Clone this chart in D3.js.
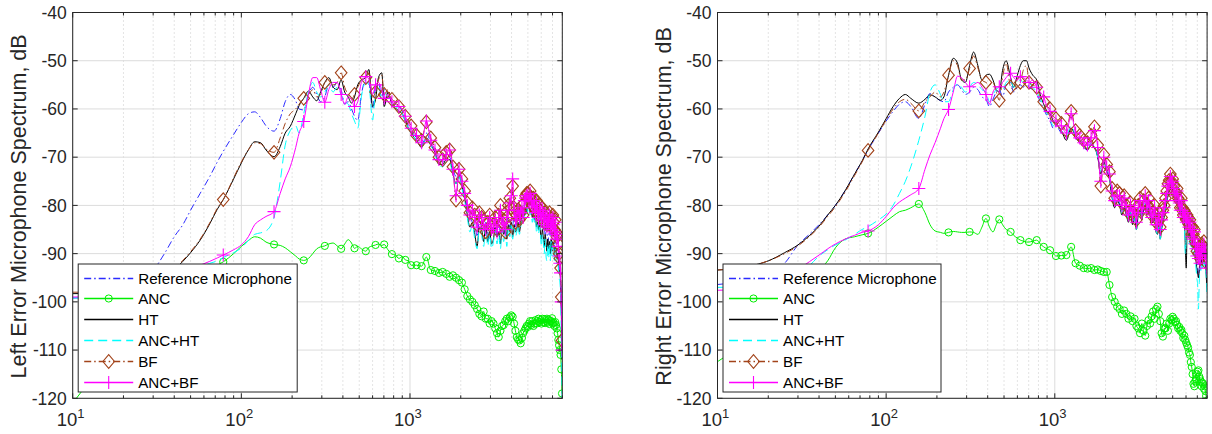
<!DOCTYPE html>
<html><head><meta charset="utf-8">
<script src="https://cdnjs.cloudflare.com/ajax/libs/d3/7.8.5/d3.min.js"></script>
<style>body{margin:0;background:#fff}svg{display:block}</style>
</head><body><svg id="c" width="1212" height="434"></svg>
<script>
// ---------------- data ----------------
const FREQ = [10,15,20,25,30,35,40,45,50,57,65,72,78.125,90,100,110,120,130,140,156.25,
170,182,195,210,220,234.375,250,265,280,295,312.5,330,350,370,390.625,410,430,450,468.75,490,
515,546.875,570,600,625,650,680,703.125,740,781.25,820,859.375,900,937.5,980,1015.625,1093.75,1171.875,1250,1328.125,
1406.25,1484.375,1562.5,1640.625,1718.75,1796.875,1875,1953.125,2031.25,2109.375,
2187.5,2265.625,2343.75,2421.875,2500,2578.125,2656.25,2734.375,2812.5,2890.625,2968.75,3046.875,3125,3203.125,3281.25,
3359.375,3437.5,3515.625,3593.75,3671.875,3750,3828.125,3906.25,3984.375,4062.5,4140.625,4218.75,4296.875,4375,4453.125,
4531.25,4609.375,4687.5,4765.625,4843.75,4921.875,5000,5078.125,5156.25,5234.375,5312.5,5390.625,5468.75,5546.875,5625,
5703.125,5781.25,5859.375,5937.5,6015.625,6093.75,6171.875,6250,6328.125,6406.25,6484.375,6562.5,6640.625,6718.75,6796.875,
6875,6953.125,7031.25,7109.375,7187.5,7265.625,7343.75,7421.875,7500,7578.125,7656.25,7734.375,7812.5,7890.625,7968.75];

const SERIES_NAMES = ["Reference Microphone","ANC","HT","ANC+HT","BF","ANC+BF"];
const Y_TICKS = [-120,-110,-100,-90,-80,-70,-60,-50,-40];
const X_TICKS = [10,100,1000];
const X_TICK_LABELS = [["10","1"],["10","2"],["10","3"]];
const Y_LABELS = ["Left Error Microphone Spectrum, dB","Right Error Microphone Spectrum, dB"];

// ---- Left panel ----
const L_REF = [-99.2,-99.0,-98.0,-96.3,-93.5,-90.0,-86.5,-84.0,-81.0,-77.5,-74.0,-71.0,-68.8,-65.3,-62.8,-61.0,-60.6,-61.8,-63.5,-64.6,
-62.0,-58.5,-57.0,-58.3,-60.0,-60.2,-57.0,-55.5,-57.0,-58.5,-57.5,-55.0,-55.5,-54.5,-56.0,-59.0,-58.5,-60.0,-61.5,-62.4,
-57.0,-54.0,-54.5,-60.0,-55.0,-54.5,-57.5,-56.0,-57.0,-58.5,-59.0,-59.5,-60.5,-62.0,-63.5,-64.5,-66.0,-67.5,-65.0,-67.0,
-68.5,-70.5,-71.0,-70.0,-70.0,-72.5,-74.0,-73.0,-75.0,-77.5,
-80.5,-82.0,-83.5,-84.0,-86.5,-83.0,-84.5,-85.5,-83.5,-85.5,-87.0,-84.5,-86.0,-84.5,-86.5,-84.0,-85.5,-83.0,-84.5,-86.0,-83.5,
-82.5,-84.5,-83.0,-84.0,-82.5,-84.5,-83.5,-82.0,-83.5,-82.5,-81.5,-80.0,-80.5,-79.0,-80.0,-78.5,-79.5,-79.0,-80.0,-81.0,-80.5,
-81.5,-80.5,-82.0,-82.0,-83.0,-82.5,-83.5,-84.5,-83.0,-85.0,-84.0,-86.0,-84.0,-85.5,-87.5,-86.5,-85.0,-86.5,-85.0,-87.0,-85.5,
-86.0,-88.0,-87.0,-88.0,-89.5,-89.0,-90.0,-92.0,-93.0,-95.0,-100.0,-110.0];
const L_ANC = [-121,-113,-107.5,-104,-101,-99,-97.5,-96.3,-95.3,-94.3,-93.3,-92.4,-91.7,-90.0,-88.5,-87.3,-86.5,-86.8,-87.6,-88.1,
-88.3,-88.8,-89.6,-90.5,-91.1,-91.4,-91.0,-90.0,-89.0,-88.6,-88.4,-88.0,-87.8,-88.4,-89.0,-88.0,-87.1,-87.8,-88.9,-88.5,
-89.0,-89.5,-88.7,-88.4,-88.2,-88.0,-88.3,-88.1,-89.2,-90.1,-90.3,-91.0,-90.6,-91.3,-91.5,-92.4,-92.4,-92.6,-90.7,-93.4,
-93.6,-94.0,-93.8,-94.2,-94.8,-94.5,-95.0,-95.5,-96.0,-97.4,
-98.8,-99.5,-100.0,-100.7,-101.5,-102.5,-103.0,-102.0,-103.5,-103.5,-104.5,-104.0,-104.5,-105.5,-106.5,-107.3,-106.0,-105.0,
-104.8,-104.0,-103.5,-104.0,-103.2,-102.8,-103.1,-104.5,-106.0,-107.3,-107.8,-108.0,-108.6,-107.5,-106.5,-106.0,-105.5,-105.0,
-105.2,-104.5,-104.0,-104.8,-104.0,-105.0,-104.5,-103.8,-104.5,-104.0,-103.5,-104.2,-103.8,-104.5,-103.5,-104.2,-103.6,-104.4,
-104.0,-103.5,-104.3,-103.7,-104.6,-104.0,-104.0,-103.4,-104.5,-104.3,-105.0,-104.2,-104.8,-105.5,-106.5,-107.9,-109.0,-110.0,
-111.0,-114.0,-119.0];
const L_HT = [-98.3,-98.2,-97.8,-97.0,-96.0,-94.8,-93.3,-91.6,-89.8,-87.2,-83.8,-80.8,-78.8,-74.5,-71.2,-68.5,-66.8,-67.0,-68.5,-69.9,
-67.8,-65.0,-63.6,-61.0,-59.3,-57.8,-56.3,-57.5,-58.3,-56.5,-54.5,-53.5,-55.5,-56.0,-54.0,-56.5,-57.5,-58.8,-57.5,-55.0,
-54.0,-53.5,-51.8,-59.5,-58.0,-53.5,-52.5,-59.5,-56.5,-59.0,-59.8,-60.5,-61.0,-62.5,-64.0,-65.0,-66.5,-68.0,-66.0,-67.5,
-69.0,-71.5,-71.5,-70.5,-70.5,-73.5,-75.5,-74.0,-76.0,-78.5,
-82.0,-84.5,-83.5,-86.0,-88.5,-84.5,-85.0,-87.5,-84.0,-87.5,-85.5,-88.0,-87.0,-84.5,-86.5,-85.5,-88.0,-84.5,-86.0,-84.0,-87.0,
-84.0,-85.5,-83.5,-86.5,-84.0,-85.5,-85.0,-83.5,-85.5,-84.0,-82.5,-81.5,-82.0,-80.5,-81.5,-79.5,-80.5,-81.5,-81.0,-82.5,-81.5,
-83.0,-82.0,-84.5,-83.5,-85.0,-84.0,-85.5,-87.0,-85.0,-86.5,-88.5,-86.0,-87.5,-89.5,-87.0,-89.0,-87.5,-90.0,-87.0,-89.5,-87.5,
-88.0,-90.0,-88.5,-89.5,-91.0,-90.0,-91.5,-93.0,-94.0,-96.0,-102.0,-112.0];
const L_ANCHT = [-99.2,-99.0,-98.5,-97.8,-97.0,-96.0,-95.0,-94.2,-93.5,-92.8,-92.0,-91.5,-90.8,-89.8,-88.8,-87.3,-86.0,-85.7,-85.3,-82.5,
-75.0,-67.5,-64.5,-63.5,-65.0,-61.0,-56.5,-54.5,-56.5,-57.5,-56.5,-55.0,-56.5,-55.5,-57.0,-58.5,-59.0,-61.0,-62.5,-64.0,
-57.5,-54.5,-55.0,-62.3,-56.0,-55.0,-58.0,-57.0,-57.5,-59.0,-59.5,-60.0,-61.0,-62.5,-64.0,-65.0,-66.5,-68.0,-66.0,-67.5,
-69.5,-71.5,-72.0,-71.0,-71.0,-74.0,-75.5,-74.0,-76.5,-79.0,
-82.5,-85.5,-84.0,-87.0,-89.0,-85.0,-86.0,-88.5,-84.5,-88.5,-86.0,-89.0,-87.5,-85.0,-88.0,-86.0,-89.0,-85.0,-87.5,-85.0,-88.5,
-84.5,-86.5,-84.0,-87.0,-84.5,-86.5,-85.5,-84.0,-86.0,-84.5,-83.0,-82.0,-82.5,-81.0,-82.0,-80.0,-81.0,-82.0,-81.5,-83.5,-82.0,
-83.5,-82.5,-85.5,-84.0,-86.0,-84.5,-86.0,-88.5,-86.0,-87.5,-90.0,-87.0,-90.5,-91.5,-88.0,-91.0,-88.0,-91.5,-87.5,-90.5,-88.0,
-89.0,-91.5,-89.0,-91.0,-92.0,-91.5,-93.0,-95.0,-96.0,-98.0,-108.0,-120.0];
const L_BF = [-98.0,-98.0,-97.6,-96.8,-95.8,-94.5,-93.0,-91.4,-89.6,-87.0,-83.6,-80.6,-78.8,-74.3,-71.0,-68.5,-67.0,-67.2,-68.3,-69.0,
-66.0,-63.0,-61.0,-60.0,-59.0,-57.8,-57.0,-56.0,-57.5,-57.0,-54.5,-54.0,-55.0,-54.5,-52.5,-55.5,-57.0,-58.0,-57.0,-55.5,
-54.0,-53.5,-52.5,-57.5,-56.5,-54.0,-53.0,-57.0,-56.0,-58.0,-58.5,-59.5,-60.0,-61.5,-62.5,-63.5,-65.5,-66.5,-62.7,-66.0,
-68.0,-70.0,-70.5,-69.0,-68.5,-72.0,-78.9,-72.5,-74.5,-77.0,
-79.5,-81.5,-80.5,-82.0,-84.0,-81.5,-82.5,-83.0,-85.5,-83.5,-82.0,-84.5,-84.0,-82.5,-85.0,-82.0,-80.0,-83.5,-83.0,-85.5,-82.5,
-80.0,-78.5,-80.5,-76.0,-80.5,-83.5,-82.0,-81.0,-83.0,-81.5,-80.0,-82.0,-79.5,-78.0,-77.5,-77.5,-78.5,-77.0,-78.5,-80.0,-78.5,
-79.5,-81.0,-79.0,-80.5,-82.0,-80.0,-81.0,-82.5,-80.5,-82.0,-83.5,-81.5,-82.5,-84.0,-82.0,-83.0,-81.5,-84.0,-82.5,-84.5,-82.0,
-83.5,-85.0,-83.0,-85.5,-86.5,-86.0,-88.0,-90.0,-91.0,-93.0,-99.0,-108.0];
const L_ANCBF = [-99.0,-98.8,-98.3,-97.6,-96.8,-95.8,-94.8,-94.0,-93.2,-92.4,-91.6,-90.9,-90.3,-89.2,-88.2,-86.5,-84.0,-83.0,-82.3,-81.3,
-77.5,-74.5,-72.0,-68.0,-65.0,-62.6,-57.0,-53.5,-53.5,-56.0,-58.6,-56.0,-54.5,-54.5,-57.0,-59.0,-57.5,-58.0,-59.5,-58.5,
-54.5,-53.3,-53.8,-57.0,-55.0,-54.5,-56.0,-57.8,-57.0,-58.5,-59.0,-59.5,-60.0,-61.5,-63.0,-64.0,-65.5,-67.0,-62.5,-66.5,
-68.5,-70.5,-70.5,-69.5,-68.5,-72.5,-78.0,-72.5,-75.0,-77.5,
-80.0,-82.0,-81.0,-82.5,-84.5,-82.0,-82.5,-84.0,-85.0,-84.0,-82.5,-85.0,-84.5,-83.0,-85.5,-82.5,-81.0,-84.0,-83.5,-85.0,-82.5,
-81.0,-79.5,-78.0,-74.5,-81.0,-83.0,-82.5,-81.0,-82.5,-81.5,-80.5,-82.5,-79.0,-78.5,-78.0,-78.0,-79.0,-77.5,-79.0,-80.5,-79.0,
-80.0,-81.5,-79.5,-81.0,-82.5,-80.5,-81.5,-83.0,-81.0,-82.0,-84.0,-82.0,-82.5,-84.5,-82.5,-83.5,-82.0,-84.5,-83.0,-85.0,-82.5,
-84.0,-85.5,-83.5,-86.0,-87.0,-86.5,-88.5,-90.5,-92.0,-94.0,-100.0,-110.0];

// ---- Right panel ----
const R_REF = [-96.4,-95.5,-94.0,-92.0,-88.2,-86.0,-84.0,-82.0,-80.0,-77.0,-73.5,-70.8,-68.5,-65.0,-62.5,-60.5,-59.0,-58.5,-59.5,-62.0,
-59.0,-56.8,-57.5,-58.3,-58.5,-56.5,-55.5,-55.0,-56.0,-57.0,-56.5,-55.5,-56.0,-57.5,-58.0,-59.5,-58.0,-56.5,-56.0,-57.5,
-55.0,-54.5,-56.5,-55.5,-55.0,-55.5,-54.5,-55.5,-56.0,-57.0,-58.5,-60.0,-61.5,-62.5,-64.0,-63.5,-65.0,-65.5,-64.0,-66.0,
-67.0,-68.0,-68.5,-67.0,-68.0,-70.0,-72.5,-71.0,-72.5,-74.5,
-78.0,-79.5,-78.5,-79.5,-81.0,-80.0,-81.5,-82.5,-81.0,-83.5,-82.0,-84.0,-81.5,-80.5,-82.0,-80.5,-79.5,-81.0,-80.0,-81.5,-82.5,
-83.0,-82.0,-84.5,-85.0,-83.5,-86.0,-84.5,-83.0,-82.0,-80.5,-79.0,-77.5,-76.5,-75.5,-76.5,-76.0,-77.5,-78.0,-79.0,-78.0,-80.0,
-80.5,-81.5,-80.5,-82.0,-83.0,-82.5,-85.0,-83.5,-84.5,-84.0,-85.5,-84.5,-86.0,-87.0,-86.5,-88.0,-87.5,-89.0,-90.0,-91.5,-93.0,
-95.0,-93.0,-91.5,-92.0,-90.5,-91.5,-91.0,-90.0,-91.0,-91.0,-93.0,-96.0];
const R_ANC = [-112.4,-108.0,-104.0,-100.5,-97.5,-95.3,-93.4,-91.5,-88.8,-87.0,-86.5,-86.1,-85.8,-84.5,-83.3,-82.2,-81.3,-81.0,-80.5,-79.7,
-81.5,-84.0,-85.3,-85.6,-85.8,-85.6,-85.4,-85.5,-85.6,-85.6,-85.5,-85.6,-86.0,-84.5,-82.7,-84.5,-85.5,-84.0,-82.9,-84.0,
-85.0,-85.5,-86.2,-86.8,-87.2,-87.4,-87.6,-87.6,-87.4,-87.2,-88.0,-88.6,-89.0,-89.3,-90.0,-90.5,-90.4,-90.3,-88.6,-92.0,
-92.5,-93.0,-93.1,-93.0,-93.4,-93.3,-93.6,-93.8,-93.8,-96.5,
-99.0,-100.0,-101.0,-101.5,-102.5,-101.8,-102.5,-103.5,-103.0,-104.0,-103.5,-105.0,-105.5,-106.5,-104.5,-106.0,-107.0,-105.0,
-103.8,-104.5,-103.0,-102.0,-103.5,-101.5,-101.0,-102.5,-104.0,-106.5,-107.2,-105.5,-105.5,-104.5,-106.0,-104.5,-103.5,-103.8,
-103.1,-103.5,-104.2,-104.0,-104.8,-105.5,-105.2,-106.0,-105.8,-106.5,-107.5,-107.0,-107.9,-108.5,-109.0,-109.5,-110.5,-111.0,
-112.5,-113.5,-115.0,-117.0,-117.5,-116.5,-116.0,-115.0,-114.5,-114.2,-115.5,-116.0,-116.5,-117.5,-116.8,-117.0,-118.0,-117.5,
-118.5,-119.5,-120.5];
const R_HT = [-93.4,-92.7,-91.5,-89.8,-88.2,-86.3,-84.3,-82.0,-80.0,-77.0,-73.5,-70.8,-68.3,-64.8,-62.0,-59.5,-57.8,-57.0,-57.8,-58.8,
-58.0,-57.1,-57.5,-58.2,-57.5,-53.0,-49.5,-50.5,-54.0,-54.5,-51.0,-48.2,-51.0,-54.0,-53.0,-52.8,-54.0,-56.0,-56.5,-52.0,
-50.0,-53.5,-55.5,-53.0,-51.0,-50.0,-50.0,-51.5,-53.0,-54.0,-57.0,-59.0,-60.5,-61.0,-62.5,-63.0,-64.5,-66.5,-64.0,-65.5,
-66.5,-67.5,-68.5,-67.5,-68.0,-70.0,-73.5,-71.0,-73.0,-74.5,
-78.5,-80.5,-79.0,-80.0,-82.0,-80.5,-82.0,-83.5,-81.5,-84.0,-82.5,-85.0,-82.0,-81.0,-83.0,-81.0,-80.0,-82.0,-80.5,-82.0,-83.5,
-83.5,-82.5,-85.5,-86.0,-84.0,-87.0,-85.0,-83.5,-82.5,-81.0,-79.5,-78.0,-77.0,-76.0,-77.0,-76.5,-78.0,-78.5,-79.5,-78.5,-80.5,
-81.0,-82.0,-81.0,-82.5,-84.0,-83.0,-88.0,-93.0,-85.0,-85.5,-86.5,-85.0,-87.5,-88.5,-87.0,-89.0,-88.0,-90.0,-91.5,-93.0,-94.0,
-95.0,-93.5,-92.0,-92.5,-91.0,-92.5,-91.5,-90.5,-92.0,-92.0,-94.0,-97.0];
const R_ANCHT = [-97.0,-96.8,-96.3,-95.5,-94.0,-92.5,-90.5,-89.2,-88.2,-87.2,-86.0,-85.0,-84.4,-83.0,-81.8,-80.0,-77.5,-75.0,-72.0,-66.5,
-61.5,-56.5,-55.0,-57.0,-58.5,-58.5,-56.0,-54.8,-55.5,-56.5,-55.5,-54.5,-55.0,-56.0,-56.5,-58.5,-57.0,-56.0,-55.5,-56.0,
-54.5,-54.0,-55.5,-54.5,-54.0,-54.5,-54.0,-54.5,-55.5,-56.5,-58.0,-59.5,-61.0,-62.0,-63.5,-63.0,-64.5,-65.5,-63.5,-65.5,
-66.5,-67.5,-68.5,-67.0,-67.5,-70.0,-73.0,-70.5,-72.5,-74.0,
-78.0,-80.0,-79.0,-79.5,-81.5,-80.5,-81.5,-83.0,-81.5,-83.5,-82.5,-85.0,-81.5,-80.5,-82.5,-80.5,-79.5,-81.5,-80.0,-81.5,-83.0,
-83.0,-82.0,-85.0,-86.0,-84.0,-87.0,-84.5,-83.0,-82.0,-80.5,-79.0,-77.5,-76.5,-75.5,-76.5,-76.0,-77.5,-78.0,-79.0,-78.0,-80.0,
-80.5,-81.5,-80.5,-82.0,-83.5,-83.0,-90.0,-87.0,-85.5,-86.5,-88.0,-86.0,-88.5,-89.5,-88.0,-90.5,-89.0,-91.0,-93.0,-95.0,-96.5,
-101.5,-96.0,-93.0,-93.5,-92.0,-93.0,-92.0,-91.0,-92.5,-92.0,-94.5,-98.0];
const R_BF = [-93.4,-92.7,-91.5,-90.0,-88.4,-86.5,-84.5,-82.3,-80.3,-77.3,-73.8,-71.0,-68.6,-65.0,-62.3,-60.0,-58.5,-58.0,-58.8,-60.4,
-58.5,-57.5,-56.5,-57.5,-56.5,-53.0,-50.0,-51.0,-54.0,-54.0,-51.6,-49.0,-51.5,-54.0,-54.5,-55.0,-54.5,-56.5,-58.2,-53.5,
-50.5,-55.5,-56.0,-55.5,-54.5,-52.0,-51.0,-54.5,-55.0,-55.5,-57.5,-58.5,-59.5,-60.0,-61.5,-62.0,-63.0,-64.5,-60.5,-64.5,
-65.5,-66.5,-67.0,-65.5,-63.7,-67.5,-76.0,-69.5,-71.5,-73.0,
-76.5,-78.5,-77.0,-77.5,-79.5,-78.0,-80.0,-81.5,-79.5,-81.5,-80.0,-83.0,-80.0,-78.5,-81.0,-79.0,-77.5,-80.0,-78.5,-80.5,-82.0,
-81.5,-80.0,-83.5,-83.0,-81.5,-84.5,-82.5,-81.0,-80.0,-78.5,-77.0,-75.5,-74.8,-73.5,-75.0,-74.5,-76.0,-77.0,-77.5,-76.5,-78.5,
-79.0,-80.5,-78.5,-80.5,-82.0,-81.0,-81.5,-83.0,-82.0,-82.5,-84.0,-83.0,-84.5,-86.0,-84.5,-86.0,-85.0,-87.5,-88.0,-89.5,-87.5,
-90.0,-88.5,-91.0,-89.5,-88.0,-90.0,-88.5,-87.5,-89.5,-89.0,-90.5,-92.0];
const R_ANCBF = [-97.6,-97.3,-96.5,-95.0,-93.3,-91.7,-90.3,-89.0,-88.0,-87.0,-86.2,-85.6,-85.3,-84.0,-82.3,-80.5,-79.3,-78.5,-77.8,-76.5,
-72.5,-69.5,-67.0,-64.0,-62.0,-60.1,-56.5,-53.2,-53.5,-54.5,-55.4,-55.0,-54.5,-55.5,-57.0,-59.0,-56.5,-55.5,-55.4,-54.5,
-53.5,-52.6,-53.5,-54.0,-53.3,-53.5,-54.0,-54.5,-54.0,-55.5,-56.5,-57.5,-59.5,-60.5,-62.0,-62.5,-63.5,-65.0,-61.0,-65.0,
-66.0,-67.0,-67.5,-66.0,-64.5,-68.0,-75.0,-70.0,-72.0,-73.5,
-77.0,-79.0,-78.0,-78.0,-80.0,-78.5,-80.5,-82.0,-80.0,-82.0,-80.5,-83.5,-80.5,-79.0,-81.5,-79.5,-78.0,-80.5,-79.0,-81.0,-82.5,
-82.0,-80.5,-84.0,-84.0,-82.0,-85.0,-83.0,-81.5,-80.5,-79.0,-77.5,-76.0,-75.5,-74.0,-75.5,-75.0,-76.5,-77.5,-78.0,-77.0,-79.0,
-79.5,-81.0,-79.0,-81.0,-82.5,-81.5,-82.0,-83.5,-82.5,-83.0,-84.5,-83.5,-85.0,-86.5,-85.0,-87.0,-85.5,-88.0,-89.0,-90.5,-88.0,
-91.0,-89.0,-92.0,-90.0,-88.5,-90.5,-89.0,-88.0,-90.0,-89.5,-91.0,-93.0];

const MARKER_STEP_HZ = 78.125;

// ---------------- styles ----------------
const STYLES = [
  {color:"#2b2bff", dash:"7,3,1.5,3", marker:null},
  {color:"#00ee00", dash:null, marker:"circle"},
  {color:"#000000", dash:null, marker:null},
  {color:"#00ffff", dash:"9,5", marker:null},
  {color:"#a2431a", dash:"7,3,1.5,3", marker:"diamond"},
  {color:"#ff00ff", dash:null, marker:"plus"}
];

const svg = d3.select("#c");
const FONT = "'Liberation Sans', Arial, Helvetica, sans-serif";
const TXT = "#262626";
const Y0 = 12.5, Y1 = 398.3;

function drawMarker(g, type, cx, cy, color) {
  if (type === "circle") {
    g.append("circle").attr("cx",cx).attr("cy",cy).attr("r",3.6)
      .attr("fill","none").attr("stroke",color).attr("stroke-width",1);
  } else if (type === "diamond") {
    const w = 5.8, h = 6.8;
    g.append("path").attr("d",`M${cx},${cy-h}L${cx+w},${cy}L${cx},${cy+h}L${cx-w},${cy}Z`)
      .attr("fill","none").attr("stroke",color).attr("stroke-width",1.1);
  } else if (type === "plus") {
    const s = 6.5;
    g.append("path").attr("d",`M${cx-s},${cy}H${cx+s}M${cx},${cy-s}V${cy+s}`)
      .attr("fill","none").attr("stroke",color).attr("stroke-width",1.1);
  }
}

function drawPanel(idx, x0, series, legendW) {
  const x = d3.scaleLog().domain([10, 8000]).range([x0, x0 + 489.6]);
  const y = d3.scaleLinear().domain([-120, -40]).range([Y1, Y0]);
  const [xa, xb] = x.range();
  const g = svg.append("g");

  // grid
  const minors = [];
  [10,100,1000].forEach(d => { for (let k=2;k<=9;k++) if (d*k <= 8000) minors.push(d*k); });
  g.selectAll(null).data(minors).enter().append("line")
    .attr("x1",d=>x(d)).attr("x2",d=>x(d)).attr("y1",Y0).attr("y2",Y1)
    .attr("stroke","#c8c8c8").attr("stroke-width",1).attr("stroke-dasharray","1,3");
  g.selectAll(null).data(X_TICKS).enter().append("line")
    .attr("x1",d=>x(d)).attr("x2",d=>x(d)).attr("y1",Y0).attr("y2",Y1)
    .attr("stroke","#dcdcdc").attr("stroke-width",1);
  g.selectAll(null).data(Y_TICKS).enter().append("line")
    .attr("x1",xa).attr("x2",xb).attr("y1",d=>y(d)).attr("y2",d=>y(d))
    .attr("stroke","#dcdcdc").attr("stroke-width",1);

  // clip
  const cid = "clip" + idx;
  svg.append("defs").append("clipPath").attr("id",cid)
    .append("rect").attr("x",xa).attr("y",Y0).attr("width",xb-xa).attr("height",Y1-Y0);
  const pg = g.append("g").attr("clip-path",`url(#${cid})`);

  const line = d3.line().x((d,i)=>x(FREQ[i])).y(d=>y(d)).curve(d3.curveMonotoneX);
  series.forEach((vals, s) => {
    const st = STYLES[s];
    if (vals.length !== FREQ.length) {
      svg.append("text").attr("x",x0+200).attr("y",30+s*14).attr("fill","red").attr("font-size",12)
        .text(`panel ${idx} series ${s}: ${vals.length} vs ${FREQ.length}`);
    }
    pg.append("path").attr("d", line(vals)).attr("fill","none")
      .attr("stroke", st.color).attr("stroke-width", 1)
      .attr("stroke-dasharray", st.dash);
    if (st.marker) {
      const mg = pg.append("g");
      vals.forEach((v, i) => {
        const f = FREQ[i], r = f / MARKER_STEP_HZ;
        if (f >= MARKER_STEP_HZ - 0.01 && Math.abs(r - Math.round(r)) < 1e-3) drawMarker(mg, st.marker, x(f), y(v), st.color);
      });
    }
  });

  // axes box
  g.append("rect").attr("x",xa).attr("y",Y0).attr("width",xb-xa).attr("height",Y1-Y0)
    .attr("fill","none").attr("stroke",TXT).attr("stroke-width",1);
  // ticks
  const allX = X_TICKS.concat(minors);
  allX.forEach(d => {
    const len = X_TICKS.includes(d) ? 5 : 3;
    g.append("line").attr("x1",x(d)).attr("x2",x(d)).attr("y1",Y1).attr("y2",Y1-len).attr("stroke",TXT);
    g.append("line").attr("x1",x(d)).attr("x2",x(d)).attr("y1",Y0).attr("y2",Y0+len).attr("stroke",TXT);
  });
  Y_TICKS.forEach(d => {
    g.append("line").attr("x1",xa).attr("x2",xa+5).attr("y1",y(d)).attr("y2",y(d)).attr("stroke",TXT);
    g.append("line").attr("x1",xb).attr("x2",xb-5).attr("y1",y(d)).attr("y2",y(d)).attr("stroke",TXT);
    g.append("text").attr("x",xa-6).attr("y",y(d)+6.2).attr("text-anchor","end")
      .attr("font-family",FONT).attr("font-size",17.5).attr("fill",TXT).text(d);
  });
  X_TICKS.forEach((d, i) => {
    const t = g.append("text").attr("x",x(d)-16).attr("y",Y1+28).attr("font-family",FONT)
      .attr("font-size",18.5).attr("fill",TXT);
    t.append("tspan").text(X_TICK_LABELS[i][0]);
    t.append("tspan").attr("dy",-8).attr("font-size",13).text(X_TICK_LABELS[i][1]);
  });
  // y label
  g.append("text").attr("transform",`translate(${xa-46.5},${(Y0+Y1)/2 + 1}) rotate(-90)`)
    .attr("text-anchor","middle").attr("font-family",FONT).attr("font-size",21.5).attr("fill",TXT)
    .text(Y_LABELS[idx]);

  // legend
  const lx = xa + 5.5, ly = 264, lh = 128;
  const lg = g.append("g");
  lg.append("rect").attr("x",lx).attr("y",ly).attr("width",legendW).attr("height",lh)
    .attr("fill","#fff").attr("stroke",TXT).attr("stroke-width",1);
  SERIES_NAMES.forEach((name, s) => {
    const st = STYLES[s];
    const cy = Math.round(ly + 13.5 + s * 20.8) + 0.5;
    lg.append("line").attr("x1",lx+6).attr("x2",lx+55).attr("y1",cy).attr("y2",cy)
      .attr("stroke",st.color).attr("stroke-width",1.3).attr("stroke-dasharray",st.dash);
    if (st.marker) drawMarker(lg, st.marker, lx+30.5, cy, st.color);
    lg.append("text").attr("x",lx+60).attr("y",cy+5.5).attr("font-family",FONT)
      .attr("font-size",15.2).attr("fill","#000").text(name);
  });
}

drawPanel(0, 72.7, [L_REF, L_ANC, L_HT, L_ANCHT, L_BF, L_ANCBF], 219);
drawPanel(1, 717.5, [R_REF, R_ANC, R_HT, R_ANCHT, R_BF, R_ANCBF], 218);
</script></body></html>
